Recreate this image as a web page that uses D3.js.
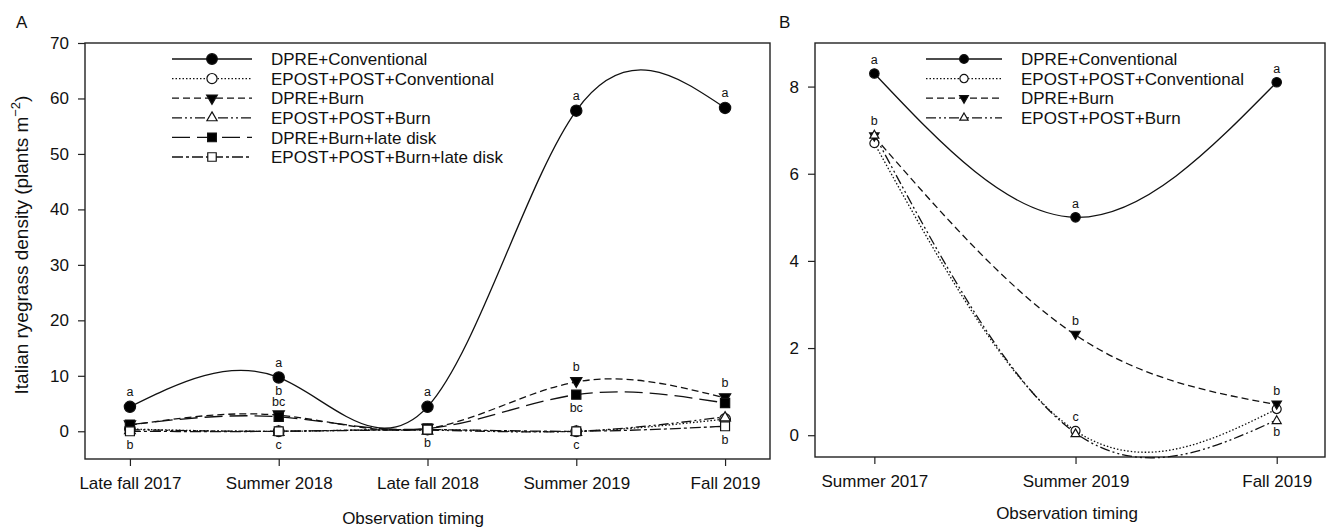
<!DOCTYPE html>
<html>
<head>
<meta charset="UTF-8">
<title>Italian ryegrass density</title>
<script src="https://d3js.org/d3.v7.min.js"></script>
<style>
  body { margin: 0; background: #fff; }
  svg text { font-family: "Liberation Sans", Arial, sans-serif; fill: #111; }
</style>
</head>
<body>
<svg id="chart" width="1327" height="528"></svg>
<script>
// ---- data: panel A ----
const categoriesA = ["Late fall 2017", "Summer 2018", "Late fall 2018", "Summer 2019", "Fall 2019"];
const seriesNamesA = ["DPRE+Conventional", "EPOST+POST+Conventional", "DPRE+Burn",
                      "EPOST+POST+Burn", "DPRE+Burn+late disk", "EPOST+POST+Burn+late disk"];
const dpreConvA      = [4.4, 9.7, 4.4, 57.8, 58.3];
const epostConvA     = [0.4, 0.0, 0.3, 0.0, 2.2];
const dpreBurnA      = [1.1, 2.9, 0.5, 8.9, 6.0];
const epostBurnA     = [0.3, 0.0, 0.2, 0.0, 2.6];
const dpreBurnDiskA  = [1.2, 2.6, 0.5, 6.6, 5.1];
const epostBurnDiskA = [0.0, 0.0, 0.3, 0.0, 0.9];
const yTicksA = [0, 10, 20, 30, 40, 50, 60, 70];
// [category, series, letter, side]  side -1 = above, 1 = below
const lettersA = [
  [0, 0, "a", -1], [0, 5, "b", 1],
  [1, 0, "a", -1], [1, 0, "b", 1], [1, 4, "bc", -1], [1, 5, "c", 1],
  [2, 0, "a", -1], [2, 5, "b", 1],
  [3, 0, "a", -1], [3, 2, "b", -1], [3, 4, "bc", 1], [3, 5, "c", 1],
  [4, 0, "a", -1], [4, 2, "b", -1], [4, 5, "b", 1]
];

// ---- data: panel B ----
const categoriesB = ["Summer 2017", "Summer 2019", "Fall 2019"];
const seriesNamesB = ["DPRE+Conventional", "EPOST+POST+Conventional", "DPRE+Burn", "EPOST+POST+Burn"];
const dpreConvB  = [8.3, 5.0, 8.1];
const epostConvB = [6.7, 0.1, 0.6];
const dpreBurnB  = [6.85, 2.3, 0.7];
const epostBurnB = [6.9, 0.05, 0.35];
const yTicksB = [0, 2, 4, 6, 8];
const lettersB = [
  [0, 0, "a", -1], [0, 3, "b", -1],
  [1, 0, "a", -1], [1, 2, "b", -1], [1, 1, "c", -1],
  [2, 0, "a", -1], [2, 2, "b", -1], [2, 3, "b", 1]
];

// line / marker styles per series (same order in both panels), k = marker size factor
const styles = [
  { dash: null,           sym: d3.symbolCircle,   fill: "#000", rot: 0,   k: 1 },
  { dash: "1.5,2",        sym: d3.symbolCircle,   fill: "#fff", rot: 0,   k: 0.9 },
  { dash: "7,4",          sym: d3.symbolTriangle, fill: "#000", rot: 180, k: 0.55 },
  { dash: "10,3,2,3,2,3", sym: d3.symbolTriangle, fill: "#fff", rot: 0,   k: 0.5 },
  { dash: "18,7",         sym: d3.symbolSquare,   fill: "#000", rot: 0,   k: 0.85 },
  { dash: "11,3,3,3",     sym: d3.symbolSquare,   fill: "#fff", rot: 0,   k: 0.8 }
];

const svg = d3.select("#chart");

function drawPanel(p) {
  const g = svg.append("g");
  const x = d3.scaleLinear().domain(p.xDomain).range([p.left, p.right]);
  const y = d3.scaleLinear().domain(p.yDomain).range([p.bottom, p.top]);

  // frame
  g.append("rect")
    .attr("x", p.left).attr("y", p.top)
    .attr("width", p.right - p.left).attr("height", p.bottom - p.top)
    .attr("fill", "none").attr("stroke", "#222").attr("stroke-width", 1.4);

  // axes
  const yAxis = g.append("g").attr("transform", `translate(${p.left},0)`)
    .call(d3.axisLeft(y).tickValues(p.yTicks).tickSize(7).tickPadding(9).tickSizeOuter(0));
  const xAxis = g.append("g").attr("transform", `translate(0,${p.bottom})`)
    .call(d3.axisBottom(x).tickValues(p.categories.map((c, i) => i))
      .tickFormat(i => p.categories[i]).tickSize(7).tickPadding(11).tickSizeOuter(0));
  [xAxis, yAxis].forEach(a => {
    a.select(".domain").remove();
    a.selectAll("line").attr("stroke", "#222").attr("stroke-width", 1.2);
    a.selectAll("text").attr("font-size", 17).attr("fill", "#111")
      .style("font-family", "'Liberation Sans', Arial, sans-serif");
  });

  // lines
  const line = d3.line().x((d, i) => x(i)).y(d => y(d)).curve(d3.curveNatural);
  p.series.forEach((vals, s) => {
    const st = styles[s];
    g.append("path").datum(vals)
      .attr("d", line).attr("fill", "none")
      .attr("stroke", "#111").attr("stroke-width", 1.3)
      .attr("stroke-dasharray", st.dash);
  });
  // markers
  p.series.forEach((vals, s) => {
    const st = styles[s];
    const shift = st.sym === d3.symbolTriangle ? (st.rot ? -1 : 1) : 0;
    g.selectAll(null).data(vals).join("path")
      .attr("d", d3.symbol(st.sym, p.symSize * st.k))
      .attr("transform", (d, i) => `translate(${x(i)},${y(d) + shift}) rotate(${st.rot})`)
      .attr("fill", st.fill).attr("stroke", "#111").attr("stroke-width", 1.2);
  });

  // significance letters
  g.selectAll(null).data(p.letters).join("text")
    .attr("x", d => x(d[0]))
    .attr("y", d => y(p.series[d[1]][d[0]]) + (d[3] < 0 ? -p.letterOffset : p.letterOffset - 2))
    .attr("dy", "0.35em")
    .attr("text-anchor", "middle")
    .attr("font-size", 12.5)
    .text(d => d[2]);

  // legend
  const lg = g.append("g");
  p.names.forEach((name, s) => {
    const st = styles[s];
    const ly = p.legendTop + s * 19.6;
    lg.append("line")
      .attr("x1", p.legendX0).attr("x2", p.legendX1).attr("y1", ly).attr("y2", ly)
      .attr("stroke", "#111").attr("stroke-width", 1.3).attr("stroke-dasharray", st.dash);
    lg.append("path")
      .attr("d", d3.symbol(st.sym, p.legendSym * st.k))
      .attr("transform", `translate(${(p.legendX0 + p.legendX1) / 2},${ly}) rotate(${st.rot})`)
      .attr("fill", st.fill).attr("stroke", "#111").attr("stroke-width", 1.2);
    lg.append("text")
      .attr("x", p.legendText).attr("y", ly).attr("dy", "0.36em")
      .attr("font-size", 17).text(name);
  });

  // axis titles & panel label
  g.append("text")
    .attr("x", p.xTitleX).attr("y", p.xTitleY)
    .attr("text-anchor", "middle").attr("font-size", 17)
    .text("Observation timing");
  if (p.yTitle) {
    const t = g.append("text")
      .attr("transform", `translate(${p.yTitleX},${p.yTitleY}) rotate(-90)`)
      .attr("text-anchor", "middle").attr("font-size", 19);
    t.append("tspan").text("Italian ryegrass density (plants m");
    t.append("tspan").attr("font-size", 13).attr("dy", -8).text("\u22122");
    t.append("tspan").attr("dy", 8).text(")");
  }
  g.append("text")
    .attr("x", p.labelX).attr("y", 28).attr("font-size", 17).text(p.label);
}

drawPanel({
  label: "A", labelX: 16,
  left: 85, right: 770, top: 43, bottom: 459,
  xDomain: [-0.302, 4.302], yDomain: [-5, 70],
  categories: categoriesA, yTicks: yTicksA,
  series: [dpreConvA, epostConvA, dpreBurnA, epostBurnA, dpreBurnDiskA, epostBurnDiskA],
  names: seriesNamesA, letters: lettersA,
  symSize: 100, legendSym: 90, letterOffset: 15,
  legendTop: 59, legendX0: 172, legendX1: 252, legendText: 271,
  xTitleX: 413, xTitleY: 524, yTitle: true, yTitleX: 28, yTitleY: 245
});

drawPanel({
  label: "B", labelX: 779,
  left: 815, right: 1325, top: 43, bottom: 457,
  xDomain: [-0.295, 2.24], yDomain: [-0.5, 9],
  categories: categoriesB, yTicks: yTicksB,
  series: [dpreConvB, epostConvB, dpreBurnB, epostBurnB],
  names: seriesNamesB, letters: lettersB,
  symSize: 70, legendSym: 60, letterOffset: 14,
  legendTop: 59, legendX0: 926, legendX1: 1002, legendText: 1021,
  xTitleX: 1067, xTitleY: 519, yTitle: false
});
</script>
</body>
</html>
